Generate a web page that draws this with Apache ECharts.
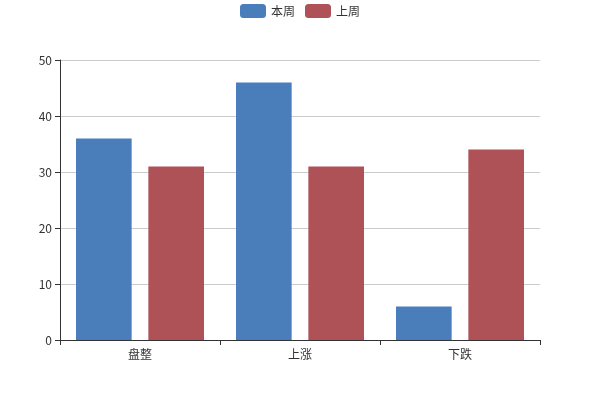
<!DOCTYPE html>
<html><head><meta charset="utf-8">
<script src="https://cdn.jsdelivr.net/npm/echarts@6/dist/echarts.min.js"></script>
<style>html,body{margin:0;padding:0;background:#fff}#c{width:600px;height:400px}</style>
</head><body><div id="c"></div>
<script>
var categories = ['盘整', '上涨', '下跌'];
var thisWeek = [36, 46, 6];
var lastWeek = [31, 31, 34];
var seriesNames = ['本周', '上周'];

var chart = echarts.init(document.getElementById('c'));
chart.setOption({
  animation: false,
  textStyle: {fontFamily: '"Noto Sans CJK SC", "Microsoft YaHei", sans-serif'},
  color: ['#4a7ebb', '#af5257'],
  legend: {top: 0, padding: [4, 5, 5, 5], itemWidth: 26, itemHeight: 14, itemGap: 10, textStyle: {color: '#333', fontSize: 12}, data: seriesNames},
  grid: {left: 60, right: 60, top: 60, bottom: 60},
  xAxis: {type: 'category', data: categories,
    axisLine: {lineStyle: {color: '#333'}}, axisTick: {show: true, lineStyle: {color: '#333'}},
    axisLabel: {color: '#333', fontSize: 12}},
  yAxis: {type: 'value', min: 0, max: 50, interval: 10,
    axisLine: {show: true, lineStyle: {color: '#333'}}, axisTick: {show: true, lineStyle: {color: '#333'}},
    axisLabel: {color: '#333', fontSize: 12},
    splitLine: {lineStyle: {color: '#ccc'}}},
  series: [
    {name: seriesNames[0], type: 'bar', data: thisWeek, barGap: '30%', barCategoryGap: '20%'},
    {name: seriesNames[1], type: 'bar', data: lastWeek, barGap: '30%', barCategoryGap: '20%'}
  ]
});
</script></body></html>
